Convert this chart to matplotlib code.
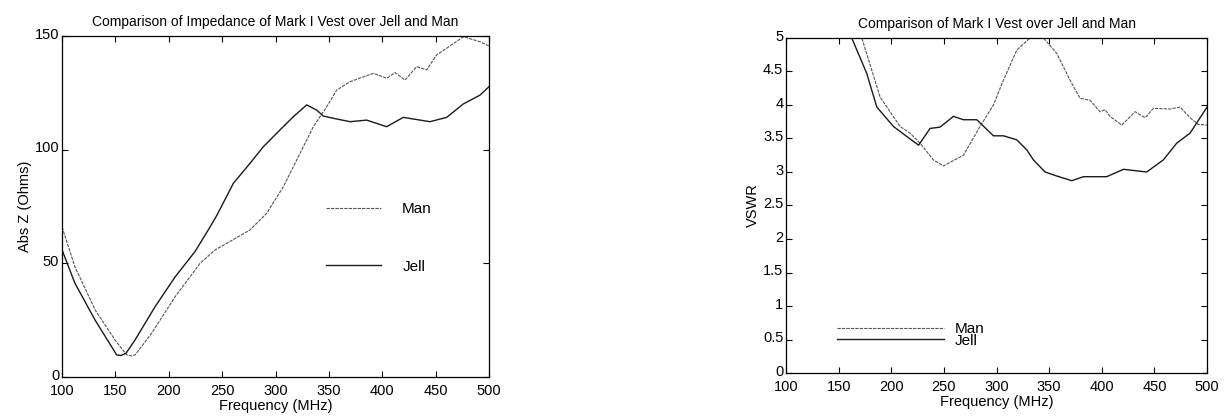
import matplotlib
matplotlib.use("Agg")
import matplotlib.pyplot as plt
import matplotlib.transforms as mtransforms
from matplotlib.ticker import FuncFormatter

plt.rcParams['font.family'] = ['Liberation Sans', 'DejaVu Sans']

# ---- Impedance data (left) ----
man_z_f = [100, 112, 131, 149.6, 160.6, 164.6, 168.4, 184, 205.9, 229.3, 243.3, 254.3, 276.1,
           291.7, 307.3, 323, 335.4, 348, 357.3, 369.8, 391.7, 404.1, 412, 421.3, 432.2,
           441.6, 451, 460.4, 476, 491.4, 500]
man_z = [66, 48.5, 29.5, 16.3, 9.7, 9.3, 9.7, 19.3, 35.3, 50, 55.9, 58.8, 64.7,
         72, 83.7, 98.4, 110.1, 118.9, 126.2, 129.9, 133.6, 131.4, 133.9, 130.6, 136.5,
         135.1, 141.7, 144.6, 149.7, 147.5, 145.6]
jell_z_f = [100, 112, 131, 151.2, 155.5, 160, 168.4, 187.1, 205.9, 224.6, 237, 244.9,
            260.5, 276.1, 288.6, 304.2, 316.7, 329.2, 338.6, 344.8, 354.2, 369.8, 385.4,
            404.1, 419.7, 444.7, 460.4, 475.9, 491.6, 500]
jell_z = [55.9, 41.3, 25, 9.7, 9.5, 10.5, 16.3, 30.9, 44, 55.2, 64.7, 71,
          85.2, 94, 101.3, 108.7, 114.5, 119.7, 117.4, 114.8, 113.8, 112.3, 113,
          110.1, 114.2, 112.3, 114.2, 120.1, 124, 127.7]

# ---- VSWR data (right) ----
jell_v_f = [150, 162.4, 176.7, 186.2, 202, 214.7, 225.9, 236.8, 246.3, 259, 268.5, 281.2,
            297, 306.5, 319.2, 328.7, 335, 346.1, 357.2, 371.4, 382.5, 404.7, 420.5,
            442.6, 458.4, 471.1, 483.8, 500]
jell_v = [6.3, 5.0, 4.47, 3.97, 3.68, 3.53, 3.40, 3.65, 3.67, 3.83, 3.78, 3.78,
          3.54, 3.54, 3.48, 3.33, 3.18, 3.0, 2.94, 2.87, 2.93, 2.93, 3.04,
          3.0, 3.18, 3.43, 3.58, 3.97]
man_v_f = [160, 172, 189.3, 208.3, 217.8, 227.3, 240, 249.5, 268.5, 284.3, 297, 306.5,
           319.2, 331.8, 344.5, 357.2, 369.8, 379.3, 388.8, 398.3, 403, 407.8, 419,
           431.6, 441.1, 449, 464.9, 474.3, 483.8, 491.7, 500]
man_v = [6.0, 5.0, 4.12, 3.68, 3.58, 3.43, 3.18, 3.09, 3.25, 3.68, 4.0, 4.37,
         4.82, 5.0, 5.0, 4.77, 4.37, 4.10, 4.07, 3.90, 3.93, 3.83, 3.70,
         3.90, 3.81, 3.95, 3.94, 3.97, 3.81, 3.71, 3.70]

x_ticks = [100, 150, 200, 250, 300, 350, 400, 450, 500]
z_ticks = [0, 50, 100, 150]
v_ticks = [0, 0.5, 1, 1.5, 2, 2.5, 3, 3.5, 4, 4.5, 5]

fig = plt.figure(figsize=(12.24, 4.17), dpi=100)
ax1 = fig.add_axes([0.0507, 0.0959, 0.3488, 0.8178])
ax2 = fig.add_axes([0.6422, 0.1055, 0.3440, 0.8034])

man_style = dict(color='#555555', lw=0.8, dashes=(3, 1))
jell_style = dict(color='#1a1a1a', lw=1.0)

ax1.plot(man_z_f, man_z, label='Man', **man_style)
ax1.plot(jell_z_f, jell_z, label='Jell', **jell_style)
ax1.set_xlim(100, 500)
ax1.set_ylim(0, 150)
ax1.set_yticks(z_ticks)
ax1.set_ylabel('Abs Z (Ohms)', fontsize=10.5, labelpad=2)
ax1.set_title('Comparison of Impedance of Mark I Vest over Jell and Man', fontsize=10, pad=7)
ax1.legend(loc='upper left', bbox_to_anchor=(0.6, 0.535), frameon=False, fontsize=11,
           handlelength=3.6, handletextpad=1.4, labelspacing=2.85, borderpad=0)

ax2.plot(man_v_f, man_v, label='Man', **man_style)
ax2.plot(jell_v_f, jell_v, label='Jell', **jell_style)
ax2.set_xlim(100, 500)
ax2.set_ylim(0, 5)
ax2.set_yticks(v_ticks)
ax2.set_ylabel('VSWR', fontsize=10.5, labelpad=2)
ax2.set_title('Comparison of Mark I Vest over Jell and Man', fontsize=10, pad=7)
ax2.legend(loc='upper left', bbox_to_anchor=(0.103, 0.175), frameon=False, fontsize=11,
           handlelength=7, handletextpad=0.7, labelspacing=-0.15, borderpad=0)

fmt = FuncFormatter(lambda v, p: '%g' % v)
up = mtransforms.ScaledTranslation(0, 2.0 / 72, fig.dpi_scale_trans)
for ax in (ax1, ax2):
    ax.set_xticks(x_ticks)
    ax.yaxis.set_major_formatter(fmt)
    ax.set_xlabel('Frequency (MHz)', fontsize=10.5, labelpad=1)
    ax.tick_params(direction='in', top=True, right=True, length=4, width=0.8,
                   labelsize=10.5, pad=2)
    ax.tick_params(axis='x', pad=5)
    for s in ax.spines.values():
        s.set_linewidth(0.9)
    for lbl in ax.get_yticklabels():
        lbl.set_transform(lbl.get_transform() + up)

fig.savefig('out.png', dpi=100)
